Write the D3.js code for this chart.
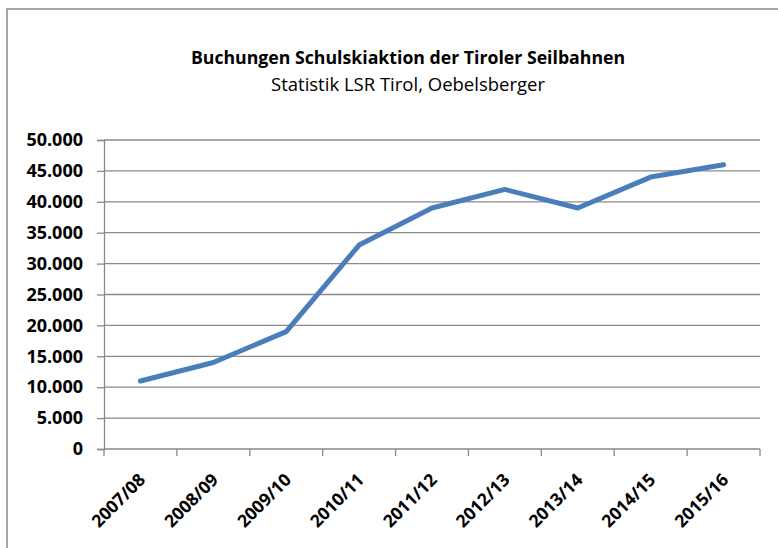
<!DOCTYPE html>
<html>
<head>
<meta charset="utf-8">
<script src="https://cdn.jsdelivr.net/npm/d3@7"></script>
<style>
  body { margin: 0; background: #fff; }
  svg text { font-family: "Open Sans", Lato, sans-serif; fill: #000; }
</style>
</head>
<body>
<div id="chart"></div>
<script>
// data
var seasons = ["2007/08", "2008/09", "2009/10", "2010/11", "2011/12", "2012/13", "2013/14", "2014/15", "2015/16"];
var bookings = [11000, 14000, 19000, 33000, 39000, 42000, 39000, 44000, 46000];
var yTicks = [0, 5000, 10000, 15000, 20000, 25000, 30000, 35000, 40000, 45000, 50000];

var svgWidth = 778, svgHeight = 548;
var margin = { top: 140, right: 18, bottom: 99, left: 104 };
var width = svgWidth - margin.left - margin.right;
var height = svgHeight - margin.top - margin.bottom;

var svg = d3.select("#chart").append("svg")
    .attr("width", svgWidth)
    .attr("height", svgHeight);

// outer frame (right and bottom edges fall outside the picture)
svg.append("rect")
    .attr("x", 7).attr("y", 9)
    .attr("width", 800).attr("height", 600)
    .attr("fill", "none")
    .attr("stroke", "#8a8a8a")
    .attr("stroke-width", 1.5);

// titles
svg.append("text")
    .attr("x", 408).attr("y", 64)
    .attr("text-anchor", "middle")
    .style("font-size", "17.7px")
    .style("font-weight", "bold")
    .text("Buchungen Schulskiaktion der Tiroler Seilbahnen");

svg.append("text")
    .attr("x", 408).attr("y", 91)
    .attr("text-anchor", "middle")
    .style("font-size", "18.5px")
    .text("Statistik LSR Tirol, Oebelsberger");

var g = svg.append("g").attr("transform", "translate(" + margin.left + "," + margin.top + ")");

var x = d3.scaleBand().domain(seasons).range([0, width]);
var y = d3.scaleLinear().domain([0, 50000]).range([height, 0]);

var fmt = function (d) { return d === 0 ? "0" : d3.format(",")(d).replace(/,/g, "."); };

// horizontal gridlines
g.append("g")
    .selectAll("line")
    .data(yTicks.slice(1))
    .enter().append("line")
    .attr("x1", 0).attr("x2", width)
    .attr("y1", function (d) { return y(d); })
    .attr("y2", function (d) { return y(d); })
    .attr("stroke", "#8a8a8a")
    .attr("stroke-width", 1.3);

// Y axis
var yAxis = g.append("g")
    .call(d3.axisLeft(y).tickValues(yTicks).tickSize(7).tickPadding(14).tickFormat(fmt));
yAxis.selectAll("line, path").attr("stroke", "#8a8a8a").attr("stroke-width", 1.3);
yAxis.selectAll("text")
    .style("font-size", "18px")
    .style("font-weight", "bold")
    .attr("fill", "#000");

// X axis with ticks on category borders
var xAxis = g.append("g")
    .attr("transform", "translate(0," + height + ")");
xAxis.append("line")
    .attr("x1", 0).attr("x2", width)
    .attr("stroke", "#8a8a8a").attr("stroke-width", 1.3);
xAxis.selectAll(".tk")
    .data(seasons.concat(["end"]))
    .enter().append("line")
    .attr("class", "tk")
    .attr("x1", function (d, i) { return i * x.step(); })
    .attr("x2", function (d, i) { return i * x.step(); })
    .attr("y1", 0).attr("y2", 7)
    .attr("stroke", "#8a8a8a").attr("stroke-width", 1.3);
xAxis.selectAll(".lbl")
    .data(seasons)
    .enter().append("text")
    .attr("class", "lbl")
    .attr("text-anchor", "end")
    .attr("transform", function (d) {
        return "translate(" + (x(d) + x.bandwidth() / 2 + 6) + ",32) rotate(-45)";
    })
    .style("font-size", "17.5px")
    .style("font-weight", "bold")
    .text(function (d) { return d; });

// the line
var line = d3.line()
    .x(function (d, i) { return x(seasons[i]) + x.bandwidth() / 2; })
    .y(function (d) { return y(d); });

g.append("path")
    .datum(bookings)
    .attr("fill", "none")
    .attr("stroke", "#4a7ebb")
    .attr("stroke-width", 5)
    .attr("stroke-linejoin", "round")
    .attr("stroke-linecap", "round")
    .attr("d", line);
</script>
</body>
</html>
